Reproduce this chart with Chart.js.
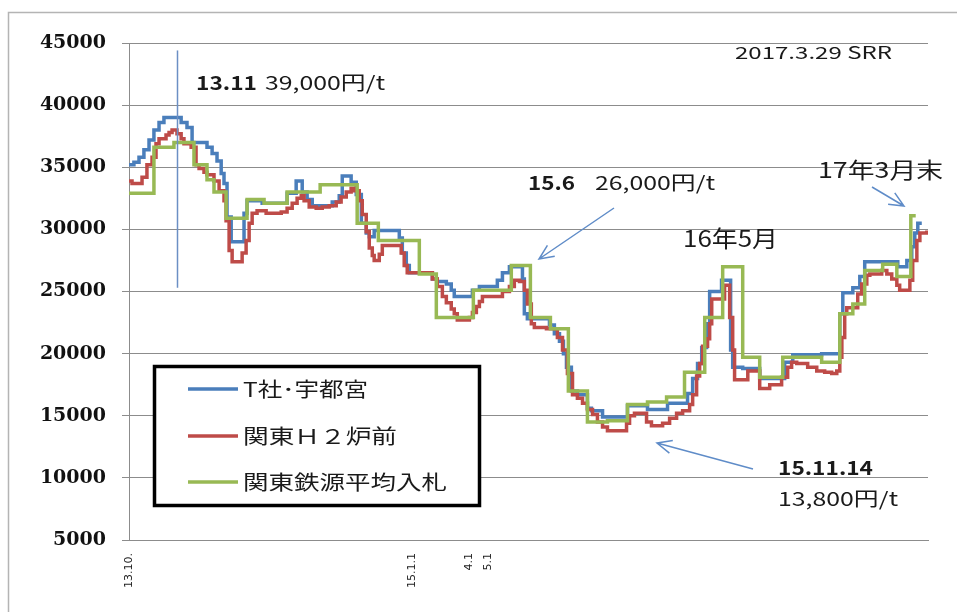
<!DOCTYPE html>
<html>
<head>
<meta charset="utf-8">
<script src="https://cdn.jsdelivr.net/npm/chart.js@4.4.1/dist/chart.umd.min.js"></script>
<style>
  html, body { margin: 0; padding: 0; background: #fff; }
  canvas { display: block; }
</style>
</head>
<body>
<canvas id="chart" width="957" height="612"></canvas>
<script>
// x values are months counted from 2013.10 (0 = 13.10.)
const tickMonths = [0, 15, 18, 19];
const tickLabels = ['13.10.', '15.1.1', '4.1', '5.1'];

const seriesNames = ['T社･宇都宮', '関東Ｈ２炉前', '関東鉄源平均入札'];

// each series is stored as step change points: month where a new price starts, and that price
const tMonths = [0, 0.26, 0.53, 0.79, 1.06, 1.32, 1.59, 1.85, 2.76, 3.07, 3.34, 4.13, 4.40, 4.66, 4.88, 5.03,
  5.19, 5.41, 6.09, 6.25, 7.05, 8.37, 8.85, 9.17, 9.43, 9.70, 10.76, 11.13, 11.29, 11.76, 12.03, 12.30,
  12.56, 12.72, 12.98, 14.31, 14.47, 14.68, 14.84, 16.06, 16.32, 16.80, 17.06, 17.22, 18.18, 18.55, 19.50,
  19.77, 20.14, 20.83, 20.93, 21.09, 22.26, 22.52, 22.79, 23.00, 23.16, 23.42, 23.74, 24.27, 24.48, 25.07,
  26.39, 27.45, 28.51, 29.57, 29.84, 30.10, 30.32, 30.58, 30.74, 31.37, 31.85, 31.96, 32.49, 33.39, 34.71,
  35.14, 36.67, 37.63, 37.79, 38.32, 38.69, 38.95, 40.70, 41.18, 41.44, 41.60, 41.76, 41.97];
const tPrices = [35200, 35400, 35800, 36400, 37200, 38000, 38600, 39000, 38600, 38200, 37000, 36600, 36100, 35500, 34500, 33700,
  31000, 29000, 31300, 32300, 32100, 32900, 33900, 33000, 32400, 31900, 32200, 32700, 34300, 33800, 32800, 30500,
  29700, 29400, 29900, 29300, 28100, 27100, 26500, 26000, 25800, 25600, 25100, 24600, 25100, 25400, 25900,
  26500, 27000, 26000, 23200, 22800, 22300, 21600, 21000, 20000, 18900, 17000, 16700, 15600, 15400, 14900,
  15800, 15500, 16000, 16800, 18000, 19200, 20500, 22400, 25000, 25900, 20300, 18900, 18800, 18000, 19300,
  19900, 20000, 23200, 24900, 25300, 26200, 27400, 27000, 27500, 28600, 29700, 30500, 30500];

const hMonths = [0, 0.16, 0.69, 0.95, 1.22, 1.43, 1.59, 1.96, 2.12, 2.28, 2.54, 2.76, 2.91, 3.29, 3.55, 3.71,
  3.97, 4.13, 4.50, 4.77, 5.03, 5.14, 5.30, 5.46, 5.99, 6.20, 6.36, 6.52, 6.78, 7.26, 8.06, 8.37, 8.64,
  8.90, 9.12, 9.27, 9.54, 9.91, 10.23, 10.60, 10.97, 11.23, 11.50, 11.76, 11.92, 12.19, 12.35, 12.56, 12.72,
  12.88, 12.98, 13.25, 13.41, 14.41, 14.57, 14.73, 16.06, 16.32, 16.59, 16.80, 17.06, 17.22, 17.38, 18.02,
  18.18, 18.39, 18.55, 18.71, 19.77, 20.14, 20.40, 20.67, 20.93, 21.09, 21.30, 21.46, 22.10, 22.68, 22.95,
  23.21, 23.48, 23.74, 24.01, 24.27, 24.54, 24.80, 25.07, 25.33, 26.34, 26.50, 26.76, 27.40, 27.66, 28.25,
  28.62, 28.99, 29.31, 29.68, 29.84, 30.05, 30.21, 30.37, 30.63, 30.74, 30.85, 31.53, 31.80, 31.96, 32.06,
  32.76, 33.39, 33.92, 34.55, 34.87, 35.08, 35.35, 35.93, 36.41, 36.83, 37.20, 37.47, 37.63, 37.74, 37.89,
  38.00, 38.58, 38.79, 39.06, 39.22, 39.85, 40.12, 40.38, 40.65, 40.80, 41.34, 41.49, 41.71, 41.87, 42.24];
const hPrices = [33900, 33700, 34200, 35200, 35800, 36900, 37300, 37600, 37800, 38000, 37700, 37300, 36900, 36600, 35200, 34900,
  34600, 34400, 33900, 33100, 32300, 30700, 28300, 27400, 28100, 29100, 30500, 31300, 31500, 31300, 31400, 31700, 32100,
  32500, 32700, 32300, 31800, 31700, 31800, 31900, 32200, 32600, 33000, 33300, 33100, 32300, 31200, 29800, 28500,
  27900, 27500, 28000, 28700, 28100, 27100, 26500, 26000, 25400, 24600, 24100, 23600, 23200, 22700, 22900,
  23300, 23800, 24200, 24600, 25000, 25400, 25900, 25800, 25100, 24000, 22400, 22100, 22000, 21300, 20300,
  18400, 16700, 16400, 16000, 15500, 15100, 14500, 14100, 13800, 14400, 15000, 15200, 14500, 14200, 14400,
  14800, 15200, 15400, 15900, 16700, 18200, 19200, 20600, 21200, 22400, 24400, 25500, 22900, 20300, 17900,
  18600, 17200, 17500, 18100, 18900, 19300, 19200, 18900, 18600, 18500, 18400, 18600, 19700, 21300, 23200,
  23700, 24800, 25600, 26300, 26400, 26700, 26400, 26000, 25500, 25100, 25900, 27500, 29100, 29700, 29900];

const bidMonths = [0, 1.32, 2.38, 3.44, 4.13, 4.50, 5.14, 6.25, 7.15, 8.37, 10.12, 12.08, 13.20, 15.37, 16.27,
  18.23, 20.24, 21.25, 22.31, 23.26, 24.27, 25.33, 26.39, 27.45, 28.46, 29.41, 30.48, 31.43, 32.49, 33.39,
  34.61, 36.67, 37.63, 38.32, 38.95, 39.90, 40.65, 41.39, 41.65];
const bidPrices = [32900, 36600, 37000, 35200, 34000, 33000, 30900, 32400, 32100, 33000, 33600, 30500, 29100, 26400, 22900,
  25100, 27100, 22900, 22000, 17000, 14500, 14600, 15900, 16100, 16500, 18500, 22900, 27000, 19700, 18100,
  19700, 19300, 23200, 24000, 26700, 27200, 26200, 31100, 31100];

const seriesColors = ['#4a7ebb', '#be4b48', '#98b954'];

const toPoints = (xs, ys) => xs.map((x, i) => ({ x: x, y: ys[i] }));

const textColor = '#1a1a1a';
const cjk = '"Noto Sans CJK JP", sans-serif';

// draw text squeezed/stretched into a given width (the source image is wide)
function fitText(ctx, str, x, y, w, font) {
  ctx.font = font;
  const nat = ctx.measureText(str).width;
  ctx.save();
  ctx.translate(x, y);
  ctx.scale(w / nat, 1);
  ctx.fillText(str, 0, 0);
  ctx.restore();
}

function arrow(ctx, x1, y1, x2, y2) {
  const a = Math.atan2(y2 - y1, x2 - x1), L = 16, s = 0.42;
  ctx.beginPath();
  ctx.moveTo(x1, y1);
  ctx.lineTo(x2, y2);
  ctx.moveTo(x2 - L * Math.cos(a - s), y2 - L * Math.sin(a - s));
  ctx.lineTo(x2, y2);
  ctx.lineTo(x2 - L * Math.cos(a + s), y2 - L * Math.sin(a + s));
  ctx.stroke();
}

const framePlugin = {
  id: 'frame',
  beforeDraw(chart) {
    const c = chart.ctx;
    c.save();
    c.fillStyle = '#fff';
    c.fillRect(0, 0, chart.width, chart.height);
    c.strokeStyle = '#b4b4b4';
    c.lineWidth = 1.5;
    c.strokeRect(8.5, 12.5, chart.width + 10, chart.height + 10);
    c.restore();
  }
};

const notesPlugin = {
  id: 'notes',
  afterDraw(chart) {
    const c = chart.ctx;
    const xs = chart.scales.x, ys = chart.scales.y;
    c.save();

    // marker line at the 13.11 peak
    const mx = Math.round(xs.getPixelForValue(2.54)) + 0.5;
    c.strokeStyle = '#6b8fc4';
    c.lineWidth = 1.5;
    c.beginPath();
    c.moveTo(mx, ys.getPixelForValue(44400));
    c.lineTo(mx, ys.getPixelForValue(25300));
    c.stroke();

    c.strokeStyle = '#5f8cc8';
    c.lineWidth = 1.5;
    arrow(c, 614, 208, 539, 259);
    arrow(c, 872, 187, 904, 206);
    arrow(c, 753, 469, 657, 443);

    c.fillStyle = textColor;
    c.textBaseline = 'middle';
    c.textAlign = 'left';
    fitText(c, '13.11', 196, 83, 61, 'bold 19px ' + cjk);
    fitText(c, '39,000円/t', 265, 83, 120, '19px ' + cjk);
    fitText(c, '2017.3.29 SRR', 735, 53, 157, '17px ' + cjk);
    fitText(c, '15.6', 528, 183, 47, 'bold 19px ' + cjk);
    fitText(c, '26,000円/t', 595, 183, 120, '19px ' + cjk);
    fitText(c, '16年5月', 683, 238, 95, '23px ' + cjk);
    fitText(c, '17年3月末', 818, 170, 125, '22px ' + cjk);
    fitText(c, '15.11.14', 778, 468, 95, 'bold 19px ' + cjk);
    fitText(c, '13,800円/t', 778, 499, 120, '19px ' + cjk);

    // legend box
    c.fillStyle = '#fff';
    c.fillRect(155, 367, 324, 138);
    c.strokeStyle = '#000';
    c.lineWidth = 3.5;
    c.strokeRect(154.5, 366.5, 325, 139);
    const rows = [389, 436, 482];
    const widths = [125, 154, 204];
    chart.data.datasets.forEach((ds, i) => {
      c.strokeStyle = ds.borderColor;
      c.lineWidth = 3.5;
      c.beginPath();
      c.moveTo(188, rows[i]);
      c.lineTo(238, rows[i]);
      c.stroke();
      c.fillStyle = textColor;
      fitText(c, ds.label, 243, rows[i], widths[i], '20px ' + cjk);
    });
    c.restore();
  }
};

const lineStyle = { stepped: true, borderWidth: 3.5, pointRadius: 0, fill: false, tension: 0 };

new Chart(document.getElementById('chart'), {
  type: 'line',
  data: {
    datasets: [
      { label: seriesNames[0], data: toPoints(tMonths, tPrices), borderColor: seriesColors[0], order: 2, ...lineStyle },
      { label: seriesNames[1], data: toPoints(hMonths, hPrices), borderColor: seriesColors[1], order: 1, ...lineStyle },
      { label: seriesNames[2], data: toPoints(bidMonths, bidPrices), borderColor: seriesColors[2], order: 0, ...lineStyle }
    ]
  },
  options: {
    responsive: false,
    devicePixelRatio: 1,
    animation: false,
    layout: { padding: { left: 0, top: 43, right: 29, bottom: 0 } },
    plugins: { legend: { display: false }, tooltip: { enabled: false } },
    scales: {
      x: {
        type: 'linear',
        min: 0,
        max: 42.3,
        grid: { display: false, drawTicks: false },
        border: { display: true, color: '#8c8c8c', width: 1 },
        afterBuildTicks: (s) => { s.ticks = tickMonths.map(v => ({ value: v })); },
        afterFit: (s) => { s.height = 72; },
        ticks: {
          autoSkip: false,
          minRotation: 90,
          maxRotation: 90,
          padding: 13,
          color: '#222',
          font: { family: 'DejaVu Sans', size: 11 },
          callback: (v) => {
            const i = tickMonths.indexOf(v);
            return i >= 0 ? tickLabels[i] : '';
          }
        }
      },
      y: {
        min: 5000,
        max: 45000,
        afterFit: (s) => { s.width = 129; },
        grid: { color: '#8c8c8c', tickLength: 7 },
        border: { color: '#8c8c8c' },
        ticks: {
          stepSize: 5000,
          padding: 16,
          color: '#111',
          font: { family: 'DejaVu Serif', size: 19, weight: 'bold' },
          callback: (v) => String(v)
        }
      }
    }
  },
  plugins: [framePlugin, notesPlugin]
});
</script>
</body>
</html>
